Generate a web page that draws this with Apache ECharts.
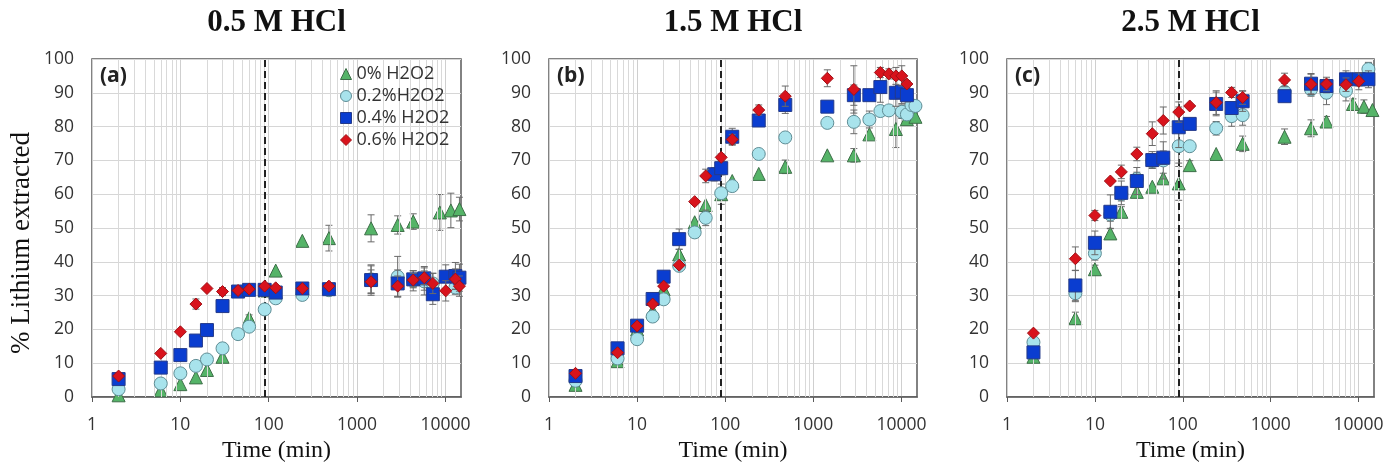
<!DOCTYPE html>
<html><head><meta charset="utf-8">
<script src="https://cdn.jsdelivr.net/npm/echarts@6/dist/echarts.min.js"></script>
<style>html,body{margin:0;padding:0;background:#fff}#c{width:1386px;height:464px}</style>
</head><body><div id="c"></div>
<script>
// ---------- data ----------
const panelTitles = ['0.5 M HCl', '1.5 M HCl', '2.5 M HCl'];
const panelTags = ['(a)', '(b)', '(c)'];
const seriesNames = ['0% H2O2', '0.2%H2O2', '0.4% H2O2', '0.6% H2O2'];
const yAxisTitle = '% Lithium extracted';
const xAxisTitle = 'Time (min)';
const xTickValues = [1, 10, 100, 1000, 10000];
const minorGridValues = [2,3,4,5,6,7,8,9,20,30,40,50,60,70,80,90,200,300,400,500,600,700,800,900,2000,3000,4000,5000,6000,7000,8000,9000];
const dashedTime = 90;

// Panel (a) 0.5 M HCl
const a0_t = [2,6,10,15,20,30,60,90,120,240,480,1440,2880,4320,8640,11520,14400];
const a0_v = [0.5,2,3.8,5.8,8,11.9,23.3,31.5,37.4,46.2,47,49.9,50.9,51.9,54.6,55.2,55.6];
const a0_e = [0,0,0,0,0,0,1,1,0,0,3.8,4,2.7,2.3,5.3,5.1,3.5];
const a1_t = [2,6,10,15,20,30,45,60,90,120,240,480,1440,2880,4320,5760,7200,12960];
const a1_v = [2.3,4,7,9.2,11.1,14.4,18.6,20.8,25.9,29.2,30.2,31.6,34.8,35.6,34.4,34.2,33.6,32.4];
const a1_e = [0,0,0,0,0,0,0,0,0,0,0,1,4,6,3,4,3,2];
const a2_t = [2,6,10,15,20,30,45,60,90,120,240,480,1440,2880,4320,5760,7200,10080,12960,14400];
const a2_v = [5.3,8.7,12.4,16.7,19.8,26.9,31.2,31.7,31.7,30.9,32.1,31.9,34.6,33.6,34.8,35.1,30.4,35.6,35.8,35.3];
const a2_e = [0,0,0,0,0,1.5,0,0,1,0,0,1.5,4.5,4,2.5,3.5,3,3.5,4,4];
const a3_t = [2,6,10,15,20,30,45,60,90,120,240,480,1440,2880,4320,5760,7200,10080,12960,14400];
const a3_v = [6.2,12.9,19.3,27.5,32.1,31.2,31.5,31.9,32.8,32.3,32.1,32.8,34.1,32.8,34.6,35.3,33.6,31.4,34.9,32.8];
const a3_e = [0,0,0,1.5,0,1.2,0,0,0,0,0,0,3.5,3,2,2,3,3,3,3];

// Panel (b) 1.5 M HCl
const b0_t = [2,6,10,15,20,30,45,60,90,120,240,480,1440,2880,4320,8640,11520,14400];
const b0_v = [3.6,10.6,20,25.5,31.9,42.2,51.7,56.8,60,63.9,66,68.1,71.5,71.5,77.7,79.3,82.2,82.9];
const b0_e = [0,0,0,0,0,1.5,0,0,3,0,0,2,0,2,0,5.5,1.5,0];
const b1_t = [2,6,10,15,20,30,45,60,90,120,240,480,1440,2880,4320,5760,7200,10080,11520,12960,14400];
const b1_v = [4.8,11.4,17.1,23.8,28.9,38.8,48.7,53,60.3,62.4,71.9,76.8,81.1,81.4,82.1,84.6,84.8,84.4,83.6,86.4,86.1];
const b1_e = [0,0,0,0,0,0,0,2.3,0,0,0,0,1.5,3.5,2.5,0,0,2,1.5,0,0];
const b2_t = [2,6,10,15,20,30,75,90,120,240,480,1440,2880,4320,5760,8640,10080,11520];
const b2_v = [6.2,14.4,21.1,29,35.6,46.7,65.9,67.7,77,81.8,86.4,85.9,89.3,89.3,91.7,90,90.3,89.3];
const b2_e = [0,0,0,0,1.5,3,2,2,2.5,1.5,2.5,0,3,0,4.5,4,3.5,2];
const b3_t = [2,6,10,15,20,30,45,60,90,120,240,480,1440,2880,5760,7200,8640,10080,11520];
const b3_v = [7,13.1,21,27.5,32.8,39,57.8,65.4,70.9,76.2,84.9,89,94.3,91,96,95.6,95,95,92.6];
const b3_e = [0,0,0,0,0,0,0,2,1,1.5,1.5,3,2.5,7,1.5,1.5,2.5,3,1];

// Panel (c) 2.5 M HCl
const c0_t = [2,6,10,15,20,30,45,60,90,120,240,480,1440,2880,4320,8640,11520,14400];
const c0_v = [11.9,23.3,37.8,48.4,54.8,60.7,62.2,64.7,63.2,68.6,71.9,74.9,77,79.5,81.5,86.7,85.9,84.9];
const c0_e = [0.5,1.8,1.2,1.5,1.5,1.5,0,1.5,5,1.3,0,2.3,2.3,2.5,1.5,1.5,2,0];
const c1_t = [2,6,10,15,20,30,45,60,90,120,240,360,480,1440,2880,4320,7200,12960];
const c1_v = [16.2,30.7,42.5,54,60,64.5,69.8,70,74.2,74.2,79.5,83.1,83.4,90.3,91,90,90.6,97];
const c1_e = [0,2.5,2,2,2,2,2,5.5,5,0,2,3,3,2.5,2,3.5,3,2];
const c2_t = [2,6,10,15,20,30,45,60,90,120,240,360,480,1440,2880,4320,7200,10080,12960];
const c2_v = [13.2,33,45.6,54.8,60.4,63.9,70.1,70.8,79.8,80.8,86.7,85.5,87.5,89,92.7,92,94,94,94];
const c2_e = [1.5,4.5,3.5,5,3.5,4,2.5,2,6,0,3.5,1.5,3,1.5,3,2,2.5,2,2.5];
const c3_t = [2,6,10,15,20,30,45,60,90,120,240,360,480,1440,2880,4320,7200,10080];
const c3_v = [18.9,40.9,53.7,63.9,66.6,71.9,77.9,81.8,84.3,86.1,87.1,90.1,88.6,93.8,92.5,92.6,92.4,93.4];
const c3_e = [0,3.5,1.5,0,2,2,3.5,4,3,0,3.5,1.5,2,2,3,2,2,2.5];

const panels = [
  [[a0_t,a0_v,a0_e],[a1_t,a1_v,a1_e],[a2_t,a2_v,a2_e],[a3_t,a3_v,a3_e]],
  [[b0_t,b0_v,b0_e],[b1_t,b1_v,b1_e],[b2_t,b2_v,b2_e],[b3_t,b3_v,b3_e]],
  [[c0_t,c0_v,c0_e],[c1_t,c1_v,c1_e],[c2_t,c2_v,c2_e],[c3_t,c3_v,c3_e]]
];

// ---------- styles ----------
const gridBoxes = [
  {left: 92, top: 59, width: 369, height: 338},
  {left: 549, top: 59, width: 368, height: 338},
  {left: 1007, top: 59, width: 367, height: 338}
];
const markers = [
  {symbol: 'triangle', size: 13, color: '#55b468', border: '#3d6e48'},
  {symbol: 'circle', size: 13, color: '#a8e3ec', border: '#5f8d95'},
  {symbol: 'rect', size: 13, color: '#0a3dd0', border: '#243a8a'},
  {symbol: 'diamond', size: 12, color: '#d8131c', border: '#a01016'}
];
const sans = 'Open Sans';
const serif = 'Liberation Serif';

const chart = echarts.init(document.getElementById('c'), null, {renderer: 'canvas'});

const grid = gridBoxes.map(g => Object.assign({show: true, borderColor: '#595959', borderWidth: 1.5,
  backgroundColor: 'transparent', containLabel: false, outerBoundsMode: 'none'}, g));

const xAxis = gridBoxes.map((g, i) => ({
  type: 'log', logBase: 10, min: 1, max: 15000, gridIndex: i,
  name: xAxisTitle, nameLocation: 'middle', nameGap: 42, nameMoveOverlap: false,
  nameTextStyle: {fontFamily: serif, fontSize: 24, color: '#111'},
  axisLine: {show: true, lineStyle: {color: '#595959', width: 1.5}},
  axisTick: {show: true, length: 5, lineStyle: {color: '#595959'}, customValues: xTickValues},
  axisLabel: {fontFamily: sans, fontSize: 17.5, color: '#333', margin: 19, customValues: xTickValues,
    formatter: v => String(Math.round(v))},
  splitLine: {show: true, lineStyle: {color: '#cfcfcf', width: 1}}
}));

const yAxis = gridBoxes.map((g, i) => ({
  type: 'value', min: 0, max: 100, interval: 10, gridIndex: i,
  axisLine: {show: false}, axisTick: {show: false},
  axisLabel: {fontFamily: sans, fontSize: 17.5, color: '#333', margin: 18},
  splitLine: {show: true, lineStyle: {color: '#d6d6d6', width: 1}}
}));

const series = [];
panels.forEach((panel, pi) => {
  series.push({
    type: 'scatter', xAxisIndex: pi, yAxisIndex: pi, data: [[1, 0]], symbolSize: 0, silent: true, z: 1,
    markLine: {silent: true, symbol: 'none', label: {show: false}, animation: false,
      lineStyle: {color: '#d9d9d9', width: 1, type: 'solid'},
      data: minorGridValues.map(v => ({xAxis: v}))}
  });
  series.push({
    type: 'scatter', xAxisIndex: pi, yAxisIndex: pi, data: [[1, 0]], symbolSize: 0, silent: true, z: 2,
    markLine: {silent: true, symbol: 'none', label: {show: false}, animation: false,
      lineStyle: {color: '#222', width: 2, type: [7, 4]},
      data: [{xAxis: dashedTime}]}
  });
  panel.forEach((s, si) => {
    const [t, v, e] = s;
    const m = markers[si];
    series.push({
      type: 'custom', xAxisIndex: pi, yAxisIndex: pi, silent: true, z: 3 + si * 2,
      data: t.map((x, k) => [x, v[k], e[k]]),
      renderItem: function (params, api) {
        const x = api.value(0), y = api.value(1), er = api.value(2);
        if (!er) return null;
        const top = api.coord([x, Math.min(y + er, 100)]);
        const bot = api.coord([x, Math.max(y - er, 0)]);
        const st = {stroke: '#6a6a6a', lineWidth: 1};
        return {type: 'group', children: [
          {type: 'line', shape: {x1: top[0], y1: top[1], x2: bot[0], y2: bot[1]}, style: st},
          {type: 'line', shape: {x1: top[0] - 3.5, y1: top[1], x2: top[0] + 3.5, y2: top[1]}, style: st},
          {type: 'line', shape: {x1: bot[0] - 3.5, y1: bot[1], x2: bot[0] + 3.5, y2: bot[1]}, style: st}
        ]};
      }
    });
    series.push({
      name: seriesNames[si], type: 'scatter', xAxisIndex: pi, yAxisIndex: pi, z: 4 + si * 2,
      symbol: m.symbol, symbolSize: m.size,
      itemStyle: {color: m.color, borderColor: m.border, borderWidth: 1, opacity: 1},
      data: t.map((x, k) => [x, v[k]])
    });
  });
});

const graphic = [];
panelTitles.forEach((txt, i) => {
  const g = gridBoxes[i];
  graphic.push({type: 'text', x: g.left + g.width / 2, y: 23, z: 100,
    style: {text: txt, font: 'bold 31px "Liberation Serif"', fill: '#111', textAlign: 'center', textVerticalAlign: 'middle'}});
  graphic.push({type: 'text', x: g.left + 8, y: 66, z: 100,
    style: {text: panelTags[i], font: 'bold 21px "Open Sans"', fill: '#222'}});
});
graphic.push({type: 'text', x: 22, y: 243, rotation: Math.PI / 2, z: 100,
  style: {text: yAxisTitle, font: '27px "Liberation Serif"', fill: '#111', textAlign: 'center', textVerticalAlign: 'middle'}});

chart.setOption({
  animation: false,
  backgroundColor: '#fff',
  grid, xAxis, yAxis, series, graphic,
  legend: {
    show: true, orient: 'vertical', left: 340, top: 65, padding: 0, z: 100,
    itemWidth: 11, itemHeight: 11, itemGap: 4,
    textStyle: {fontFamily: sans, fontSize: 18, color: '#333', lineHeight: 18},
    data: seriesNames.map((n, i) => ({
      name: n, icon: markers[i].symbol,
      itemStyle: {color: markers[i].color, borderColor: markers[i].border, borderWidth: 1}
    }))
  }
});
</script></body></html>
